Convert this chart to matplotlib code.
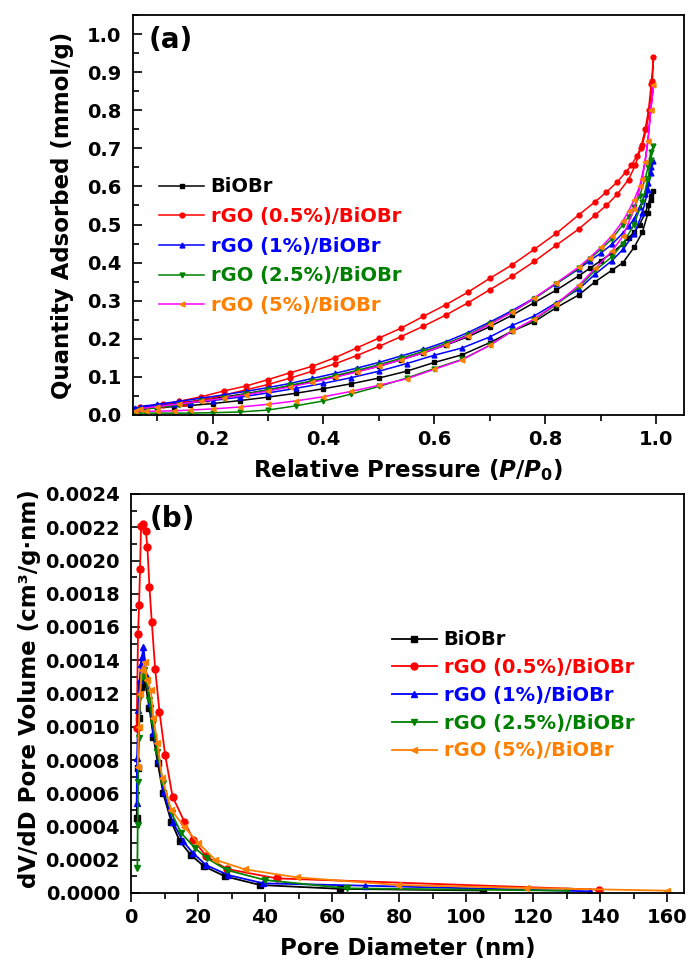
import matplotlib
matplotlib.use("Agg")
import matplotlib.pyplot as plt
from matplotlib.ticker import MultipleLocator, FormatStrFormatter

plt.rcParams['font.family'] = ['DejaVu Sans']
plt.rcParams['font.weight'] = 'bold'
plt.rcParams['axes.labelweight'] = 'bold'
plt.rcParams['mathtext.fontset'] = 'custom'
plt.rcParams['mathtext.it'] = 'DejaVu Sans:italic:bold'
plt.rcParams['mathtext.rm'] = 'DejaVu Sans:bold'

# ---- (a) N2 isotherms ----
labels = ["BiOBr", "rGO (0.5%)/BiOBr", "rGO (1%)/BiOBr", "rGO (2.5%)/BiOBr", "rGO (5%)/BiOBr"]

p_ads = [0.06, 0.08, 0.10, 0.13, 0.16, 0.20, 0.25, 0.30, 0.35, 0.40, 0.45, 0.50, 0.55, 0.60,
         0.65, 0.70, 0.74, 0.78, 0.82, 0.86, 0.89, 0.92, 0.94, 0.96, 0.975, 0.985, 0.99, 0.995]
p_des = [0.99, 0.985, 0.98, 0.97, 0.96, 0.95, 0.94, 0.92, 0.90, 0.88, 0.86, 0.82, 0.78, 0.74,
         0.70, 0.66, 0.62, 0.58, 0.54, 0.50, 0.46, 0.42, 0.38, 0.34, 0.30, 0.26, 0.22, 0.18,
         0.14, 0.10, 0.07]

bi_ads = [0.015, 0.017, 0.019, 0.022, 0.025, 0.030, 0.038, 0.047, 0.057, 0.069, 0.082, 0.097, 0.115, 0.138,
          0.158, 0.190, 0.220, 0.245, 0.282, 0.315, 0.350, 0.380, 0.400, 0.440, 0.480, 0.530, 0.565, 0.587]
bi_des = [0.575, 0.55, 0.53, 0.50, 0.48, 0.465, 0.45, 0.425, 0.405, 0.385, 0.365, 0.328, 0.295, 0.262,
          0.232, 0.205, 0.183, 0.163, 0.145, 0.128, 0.114, 0.100, 0.088, 0.076, 0.066, 0.056, 0.047, 0.039,
          0.031, 0.024, 0.019]

b1_ads = [0.018, 0.021, 0.024, 0.028, 0.032, 0.038, 0.047, 0.058, 0.070, 0.083, 0.098, 0.115, 0.135, 0.157,
          0.176, 0.205, 0.235, 0.260, 0.295, 0.330, 0.370, 0.405, 0.435, 0.475, 0.530, 0.590, 0.635, 0.668]
b1_des = [0.65, 0.61, 0.58, 0.545, 0.515, 0.495, 0.478, 0.448, 0.425, 0.405, 0.383, 0.345, 0.307, 0.274,
          0.244, 0.216, 0.192, 0.172, 0.155, 0.138, 0.123, 0.109, 0.096, 0.083, 0.072, 0.062, 0.053, 0.044,
          0.036, 0.028, 0.022]

g25_ads = [0.005, 0.005, 0.005, 0.005, 0.005, 0.006, 0.008, 0.013, 0.024, 0.037, 0.055, 0.075, 0.097, 0.122,
           0.146, 0.183, 0.220, 0.250, 0.290, 0.335, 0.380, 0.415, 0.450, 0.500, 0.560, 0.620, 0.670, 0.706]
g25_des = [0.69, 0.65, 0.62, 0.575, 0.545, 0.52, 0.50, 0.462, 0.435, 0.41, 0.385, 0.345, 0.305, 0.27,
           0.24, 0.21, 0.187, 0.167, 0.149, 0.132, 0.117, 0.103, 0.090, 0.078, 0.066, 0.055, 0.045, 0.036,
           0.027, 0.019, 0.014]

g5_ads = [0.010, 0.010, 0.010, 0.011, 0.013, 0.016, 0.021, 0.028, 0.037, 0.048, 0.062, 0.078, 0.095, 0.120,
          0.145, 0.183, 0.220, 0.252, 0.292, 0.340, 0.385, 0.430, 0.470, 0.540, 0.620, 0.720, 0.800, 0.865]
g5_des = [0.80, 0.72, 0.665, 0.60, 0.565, 0.535, 0.51, 0.47, 0.44, 0.413, 0.388, 0.347, 0.307, 0.27,
          0.238, 0.208, 0.184, 0.163, 0.145, 0.128, 0.113, 0.099, 0.086, 0.074, 0.063, 0.053, 0.044, 0.036,
          0.029, 0.022, 0.017]

# rGO 0.5% was measured on its own pressure table
p_red_ads = [0.07, 0.11, 0.15, 0.19, 0.22, 0.26, 0.30, 0.34, 0.38, 0.42, 0.46, 0.50, 0.54, 0.58, 0.62, 0.66,
             0.70, 0.74, 0.78, 0.82, 0.86, 0.89, 0.91, 0.93, 0.95, 0.962, 0.972, 0.98, 0.986, 0.991, 0.995]
r05_ads = [0.019, 0.025, 0.032, 0.041, 0.052, 0.066, 0.080, 0.097, 0.115, 0.134, 0.156, 0.180, 0.206, 0.233,
           0.262, 0.294, 0.329, 0.364, 0.403, 0.446, 0.488, 0.525, 0.550, 0.580, 0.618, 0.655, 0.70, 0.75,
           0.80, 0.87, 0.939]
p_red_des = [0.993, 0.988, 0.982, 0.975, 0.965, 0.955, 0.945, 0.93, 0.91, 0.89, 0.86, 0.82, 0.78, 0.74, 0.70,
             0.66, 0.62, 0.58, 0.54, 0.50, 0.46, 0.42, 0.38, 0.34, 0.30, 0.26, 0.22, 0.18, 0.14, 0.11, 0.07]
r05_des = [0.878, 0.80, 0.75, 0.71, 0.68, 0.655, 0.638, 0.612, 0.585, 0.56, 0.525, 0.477, 0.435, 0.394, 0.359,
           0.322, 0.289, 0.259, 0.228, 0.202, 0.176, 0.150, 0.128, 0.111, 0.093, 0.076, 0.063, 0.048, 0.036,
           0.028, 0.022]

# ---- (b) BJH pore size distribution ----
d_bi = [1.7, 2.0, 2.5, 3.0, 3.5, 4.2, 5.5, 6.7, 8.0, 9.6, 12.0, 14.6, 17.8, 21.8, 28.1, 38.5, 62.4, 105]
v_bi = [0.00045, 0.00075, 0.00105, 0.00124, 0.00131, 0.00127, 0.00111, 0.00094, 0.00078, 0.00060, 0.00043,
        0.00031, 0.00023, 0.00016, 0.00010, 0.000048, 0.000025, 0.000015]
d_r05 = [1.7, 2.1, 2.4, 2.7, 3.0, 3.7, 4.4, 4.9, 5.5, 6.2, 7.2, 8.5, 10.2, 12.4, 15.9, 18.6, 22.5, 28.5, 43.5, 139.6]
v_r05 = [0.00099, 0.00156, 0.00173, 0.00195, 0.00221, 0.00222, 0.00218, 0.00208, 0.00184, 0.00163, 0.00135,
         0.00109, 0.00083, 0.00058, 0.00043, 0.00032, 0.00022, 0.000145, 0.000088, 0.00002]
d_b1 = [1.7, 1.8, 2.2, 2.6, 3.0, 3.3, 3.7, 4.7, 5.7, 6.7, 8.2, 9.7, 12.4, 15.4, 18.4, 22.4, 29.0, 39.5, 69.7, 136.9]
v_b1 = [0.00054, 0.00081, 0.00110, 0.00128, 0.00138, 0.00142, 0.00148, 0.00130, 0.00114, 0.00096, 0.00080,
        0.00061, 0.00043, 0.000315, 0.000242, 0.000168, 0.000108, 0.000058, 0.000044, 0.00001]
d_g25 = [1.9, 2.0, 2.1, 2.3, 2.7, 3.2, 3.9, 4.6, 5.5, 6.5, 7.8, 9.6, 12.1, 15.0, 19.1, 22.6, 28.6, 40.0, 64.4, 130]
v_g25 = [0.00015, 0.00041, 0.00067, 0.00093, 0.00118, 0.00130, 0.00134, 0.00128, 0.00116, 0.00102, 0.00085,
         0.00066, 0.00048, 0.00036, 0.00027, 0.00021, 0.000138, 0.000078, 0.000028, 0.000014]
d_g5 = [2.0, 2.3, 2.7, 3.2, 4.2, 4.7, 5.9, 6.7, 7.9, 9.3, 12.0, 15.8, 20.1, 25.1, 34.0, 49.5, 79.8, 118, 160]
v_g5 = [0.00076, 0.00100, 0.00120, 0.00134, 0.00139, 0.00128, 0.00122, 0.00105, 0.00090, 0.00069, 0.00050,
        0.00040, 0.00030, 0.00020, 0.000142, 0.000094, 0.000048, 0.00003, 0.000014]

line_colors = ["black", "#FF0000", "#0000FF", "#008000", "#FF00FF"]
mark_colors = ["black", "#FF0000", "#0000FF", "#008000", "#FF8000"]
text_colors = ["black", "#FF0000", "#0000FF", "#008000", "#FF8000"]
markers = ["s", "o", "^", "v", "<"]

fig = plt.figure(figsize=(6.89, 9.65), dpi=100)
W, H = 689, 965
ax1 = fig.add_axes([132.7 / W, 1 - 415 / H, (684 - 132.7) / W, 400 / H])
ax2 = fig.add_axes([131 / W, 1 - 893 / H, 553 / W, 399 / H])

iso = [
    (p_ads + p_des, bi_ads + bi_des),
    (p_red_ads + p_red_des, r05_ads + r05_des),
    (p_ads + p_des, b1_ads + b1_des),
    (p_ads + p_des, g25_ads + g25_des),
    (p_ads + p_des, g5_ads + g5_des),
]
h1 = []
for i, (x, y) in enumerate(iso):
    ln, = ax1.plot(x, y, color=line_colors[i], lw=1.1, marker=markers[i], ms=3.5,
                   mfc=mark_colors[i], mec=mark_colors[i], label=labels[i])
    h1.append(ln)

psd = [(d_bi, v_bi), (d_r05, v_r05), (d_b1, v_b1), (d_g25, v_g25), (d_g5, v_g5)]
h2 = []
for i, (x, y) in enumerate(psd):
    ln, = ax2.plot(x, y, color=mark_colors[i], lw=1.3, marker=markers[i], ms=5,
                   mfc=mark_colors[i], mec=mark_colors[i], label=labels[i])
    h2.append(ln)

ax1.set_xlim(0.056, 1.05)
ax1.set_ylim(0, 1.05)
ax1.xaxis.set_major_locator(MultipleLocator(0.2))
ax1.xaxis.set_minor_locator(MultipleLocator(0.1))
ax1.yaxis.set_major_locator(MultipleLocator(0.1))
ax1.yaxis.set_minor_locator(MultipleLocator(0.05))
ax1.xaxis.set_major_formatter(FormatStrFormatter('%.1f'))
ax1.yaxis.set_major_formatter(FormatStrFormatter('%.1f'))

ax2.set_xlim(0, 165)
ax2.set_ylim(0, 0.0024)
ax2.xaxis.set_major_locator(MultipleLocator(20))
ax2.xaxis.set_minor_locator(MultipleLocator(10))
ax2.yaxis.set_major_locator(MultipleLocator(0.0002))
ax2.yaxis.set_minor_locator(MultipleLocator(0.0001))
ax2.yaxis.set_major_formatter(FormatStrFormatter('%.4f'))

for ax in (ax1, ax2):
    for s in ax.spines.values():
        s.set_linewidth(1.3)
    ax.tick_params(axis='x', which='major', direction='out', length=6.5, width=1.2, labelsize=14, pad=4)
    ax.tick_params(axis='x', which='minor', direction='out', length=4, width=1.2)
    ax.tick_params(axis='y', which='major', direction='in', length=6.5, width=1.2, labelsize=14, pad=8)
    ax.tick_params(axis='y', which='minor', direction='in', length=4, width=1.2)

ax1.set_xlabel(r'Relative Pressure ($\mathit{P/P_0}$)', fontsize=16.5, fontweight='bold', va='center')
ax1.set_ylabel('Quantity Adsorbed (mmol/g)', fontsize=16.5, fontweight='bold', va='center')
ax1.xaxis.set_label_coords(0.5, -0.1375)
ax1.yaxis.set_label_coords(-0.1265, 0.5)
ax2.set_xlabel('Pore Diameter (nm)', fontsize=16.5, fontweight='bold', va='center')
ax2.set_ylabel('dV/dD Pore Volume (cm³/g·nm)', fontsize=16.5, fontweight='bold', va='center')
ax2.xaxis.set_label_coords(0.5, -0.138)
ax2.yaxis.set_label_coords(-0.184, 0.512)

ax1.text(0.028, 0.9375, '(a)', transform=ax1.transAxes, fontsize=20, fontweight='bold',
         va='center', ha='left')
ax2.text(0.034, 0.937, '(b)', transform=ax2.transAxes, fontsize=20, fontweight='bold',
         va='center', ha='left')

leg1 = ax1.legend(handles=h1, loc='center left', bbox_to_anchor=(0.048, 0.422), frameon=False,
                  fontsize=14, borderpad=0, borderaxespad=0, handlelength=2.3, handletextpad=0.35,
                  labelspacing=0.55, numpoints=1)
leg2 = ax2.legend(handles=h2, loc='center left', bbox_to_anchor=(0.472, 0.495), frameon=False,
                  fontsize=14, borderpad=0, borderaxespad=0, handlelength=2.3, handletextpad=0.35,
                  labelspacing=0.45, numpoints=1)
for leg in (leg1, leg2):
    for t, c in zip(leg.get_texts(), text_colors):
        t.set_color(c)

fig.savefig("out.png", dpi=100)
